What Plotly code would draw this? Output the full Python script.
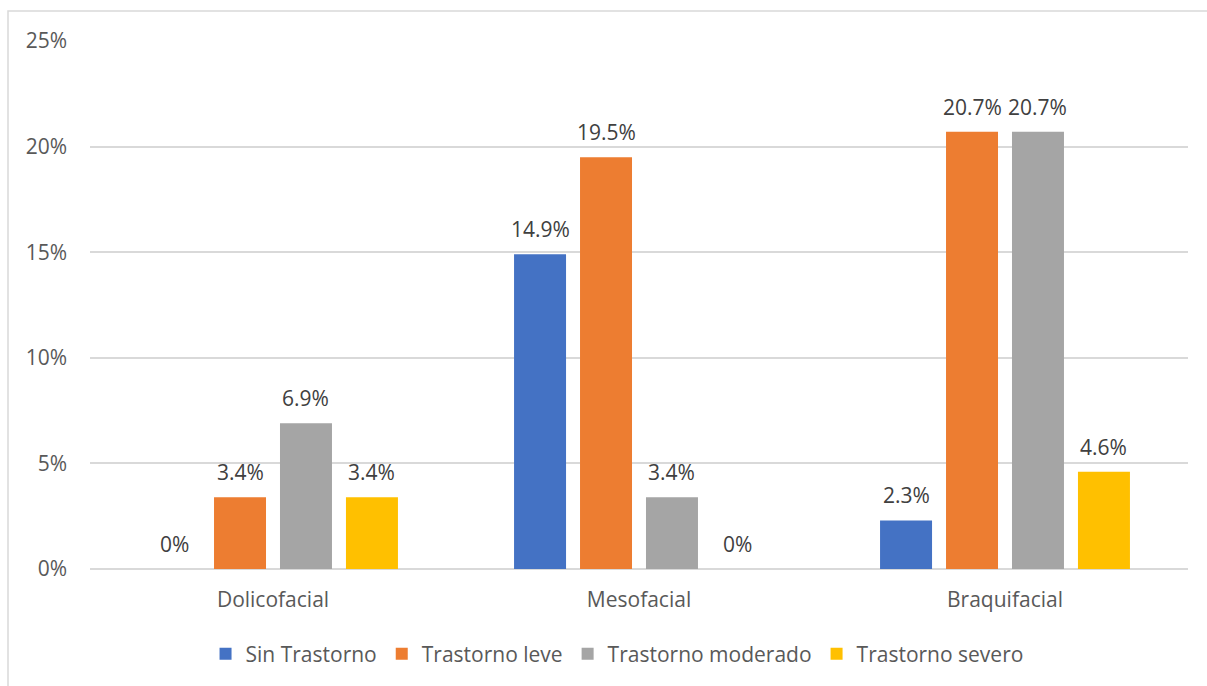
import plotly.graph_objects as go

# Facial biotype groups and disorder severity shares (percent)
categories = ["Dolicofacial", "Mesofacial", "Braquifacial"]
series_names = ["Sin Trastorno", "Trastorno leve", "Trastorno moderado", "Trastorno severo"]
sin_trastorno = [0.0, 14.9, 2.3]
trastorno_leve = [3.4, 19.5, 20.7]
trastorno_moderado = [6.9, 3.4, 20.7]
trastorno_severo = [3.4, 0.0, 4.6]
y_ticks = [0, 5, 10, 15, 20, 25]

series_values = [sin_trastorno, trastorno_leve, trastorno_moderado, trastorno_severo]
colors = ["#4472C4", "#ED7D31", "#A5A5A5", "#FFC000"]

FONT = "Open Sans"
FS = 21
fig = go.Figure()
for name, vals, col in zip(series_names, series_values, colors):
    fig.add_trace(go.Bar(
        name=name, x=categories, y=vals, marker=dict(color=col, line=dict(width=0)),
        offsetgroup=name,
    ))

# Value labels above each bar
ncat = len(categories)
nser = len(series_names)
bargap = 0.279
slot = (1 - bargap) / nser
annotations = []
for si, vals in enumerate(series_values):
    offset = -(1 - bargap) / 2 + slot * (si + 0.5)
    for ci, v in enumerate(vals):
        txt = "0%" if v == 0 else f"{v:.1f}%"
        annotations.append(dict(
            x=ci + offset, y=v, xref="x", yref="y", text=txt, showarrow=False,
            yanchor="middle", xanchor="center", yshift=25,
            font=dict(family=FONT, size=FS, color="#404040"),
        ))

fig.update_layout(
    width=1207, height=686,
    margin=dict(l=90, r=19, t=41, b=117),
    paper_bgcolor="white", plot_bgcolor="white",
    barmode="group", bargap=bargap, bargroupgap=0.212,
    font=dict(family=FONT, size=FS, color="#595959"),
    showlegend=True,
    legend=dict(orientation="h", x=0.48, xanchor="center", y=-0.161, yanchor="middle",
                font=dict(family=FONT, size=FS, color="#595959"), itemclick=False),
    annotations=annotations,
    shapes=[dict(type="rect", xref="paper", yref="paper",
                 x0=(8 - 90) / 1098, x1=(1215 - 90) / 1098,
                 y0=(569 - 700) / 528, y1=(569 - 11) / 528,
                 line=dict(color="#D9D9D9", width=1.5), fillcolor="rgba(0,0,0,0)", layer="below")],
)
fig.update_xaxes(
    type="category", range=[-0.5, ncat - 0.5], showgrid=False, showline=False,
    ticks="", tickfont=dict(family=FONT, size=FS, color="#595959"), ticklabelstandoff=16,
    zeroline=False,
)
fig.update_yaxes(
    range=[0, 25], tickvals=y_ticks, ticktext=[f"{t}%" for t in y_ticks],
    showgrid=True, gridcolor="#D9D9D9", gridwidth=1.5, zeroline=True, zerolinecolor="#D9D9D9",
    zerolinewidth=1.5, showline=False, ticks="", ticklabelstandoff=22,
    tickfont=dict(family=FONT, size=FS, color="#595959"),
)

fig.write_html("out.html")
